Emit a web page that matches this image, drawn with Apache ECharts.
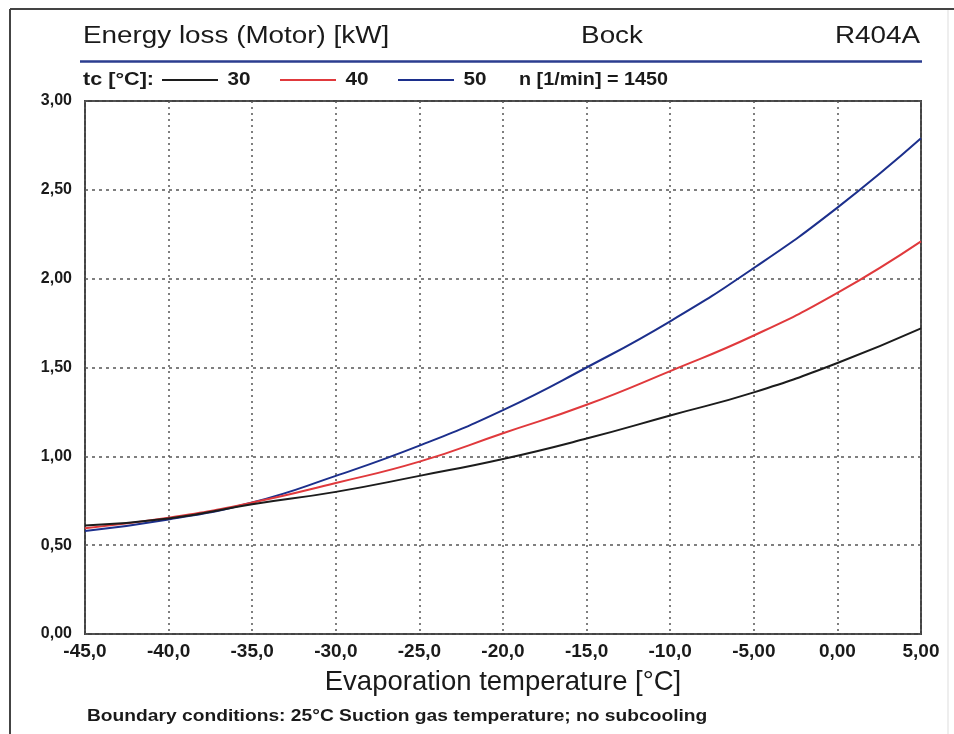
<!DOCTYPE html>
<html>
<head>
<meta charset="utf-8">
<script src="https://cdn.jsdelivr.net/npm/echarts@6/dist/echarts.min.js"></script>
<style>
html,body{margin:0;padding:0;background:#fff;}
#chart{width:954px;height:734px;}
</style>
</head>
<body>
<div id="chart"></div>
<script>
// Data
const evapTemps = [-45, -40, -35, -30, -25, -20, -15, -10, -5, 0, 5];
const tc30 = [0.61, 0.65, 0.73, 0.80, 0.89, 0.985, 1.10, 1.23, 1.36, 1.525, 1.72];
const tc40 = [0.595, 0.655, 0.74, 0.85, 0.97, 1.13, 1.29, 1.48, 1.68, 1.92, 2.21];
const tc50 = [0.58, 0.645, 0.74, 0.89, 1.06, 1.26, 1.50, 1.76, 2.06, 2.40, 2.79];
const xTickLabels = ['-45,0', '-40,0', '-35,0', '-30,0', '-25,0', '-20,0', '-15,0', '-10,0', '-5,00', '0,00', '5,00'];
const yTickLabels = ['0,00', '0,50', '1,00', '1,50', '2,00', '2,50', '3,00'];
const seriesNames = ['30', '40', '50'];
const seriesColors = ['#1c1c1c', '#e0393c', '#1c2f8c'];

const chart = echarts.init(document.getElementById('chart'));
const font = 'Liberation Sans, Arial, sans-serif';

function pairs(vals) { return evapTemps.map((t, i) => [t, vals[i]]); }

const legendLineX = [162, 280, 398];
const legendTextX = [239, 357, 475];
const legendGraphics = [];
seriesNames.forEach((n, i) => {
  legendGraphics.push({
    type: 'line', shape: { x1: legendLineX[i], y1: 80, x2: legendLineX[i] + 56, y2: 80 },
    style: { stroke: seriesColors[i], lineWidth: 2 }
  });
  legendGraphics.push({
    type: 'text', x: legendTextX[i], y: 80, scaleX: 1.15,
    style: { text: n, font: 'bold 18px ' + font, fill: '#1a1a1a', align: 'center', verticalAlign: 'middle' }
  });
});

const option = {
  backgroundColor: '#ffffff',
  animation: false,
  grid: { left: 85, right: 33, top: 101, bottom: 100, show: true, borderColor: '#444', borderWidth: 2 },
  xAxis: {
    type: 'value', min: -45, max: 5, interval: 5,
    name: 'Evaporation temperature [°C]', nameLocation: 'middle', nameGap: 34,
    nameTextStyle: { fontSize: 27.5, fontFamily: font, color: '#1a1a1a' },
    axisLine: { show: false },
    axisTick: { show: false },
    axisLabel: {
      fontSize: 19, fontWeight: 'bold', fontFamily: font, color: '#1a1a1a', margin: 8,
      formatter: v => xTickLabels[evapTemps.indexOf(v)]
    },
    splitLine: { show: true, lineStyle: { color: '#555', type: [2, 4], width: 1.5 } }
  },
  yAxis: {
    type: 'value', min: 0, max: 3, interval: 0.5,
    axisLine: { show: false },
    axisTick: { show: false },
    axisLabel: {
      fontSize: 16, fontWeight: 'bold', fontFamily: font, color: '#1a1a1a', margin: 13,
      formatter: v => yTickLabels[Math.round(v / 0.5)]
    },
    splitLine: { show: true, lineStyle: { color: '#555', type: [3, 4], width: 1.5 } }
  },
  series: seriesNames.map((n, i) => ({
    name: n, type: 'line', smooth: true, symbol: 'none',
    data: pairs([tc30, tc40, tc50][i]),
    lineStyle: { color: seriesColors[i], width: 2 },
    z: 3 + (2 - i)
  })),
  graphic: [
    { type: 'line', shape: { x1: 10, y1: 9, x2: 954, y2: 9 }, style: { stroke: '#444', lineWidth: 2 }, silent: true },
    { type: 'line', shape: { x1: 10, y1: 9, x2: 10, y2: 734 }, style: { stroke: '#444', lineWidth: 2 }, silent: true },
    { type: 'line', shape: { x1: 948, y1: 10, x2: 948, y2: 734 }, style: { stroke: '#ddd', lineWidth: 1 }, silent: true },
    { type: 'text', x: 83, y: 37, scaleX: 1.21, style: { text: 'Energy loss (Motor) [kW]', font: '23px ' + font, fill: '#1a1a1a', verticalAlign: 'middle' } },
    { type: 'text', x: 612, y: 37, scaleX: 1.21, style: { text: 'Bock', font: '23px ' + font, fill: '#1a1a1a', align: 'center', verticalAlign: 'middle' } },
    { type: 'text', x: 920, y: 37, scaleX: 1.21, style: { text: 'R404A', font: '23px ' + font, fill: '#1a1a1a', align: 'right', verticalAlign: 'middle' } },
    { type: 'line', shape: { x1: 80, y1: 61.5, x2: 922, y2: 61.5 }, style: { stroke: '#2b3d8f', lineWidth: 2.5 } },
    { type: 'text', x: 83, y: 80, scaleX: 1.2, style: { text: 'tc [°C]:', font: 'bold 18px ' + font, fill: '#1a1a1a', verticalAlign: 'middle' } },
    { type: 'text', x: 519, y: 80, scaleX: 1.1, style: { text: 'n [1/min] = 1450', font: 'bold 18px ' + font, fill: '#1a1a1a', verticalAlign: 'middle' } },
    { type: 'text', x: 87, y: 716, scaleX: 1.13, style: { text: 'Boundary conditions: 25°C Suction gas temperature; no subcooling', font: 'bold 17px ' + font, fill: '#1a1a1a', verticalAlign: 'middle' } }
  ].concat(legendGraphics)
};
chart.setOption(option);
</script>
</body>
</html>
